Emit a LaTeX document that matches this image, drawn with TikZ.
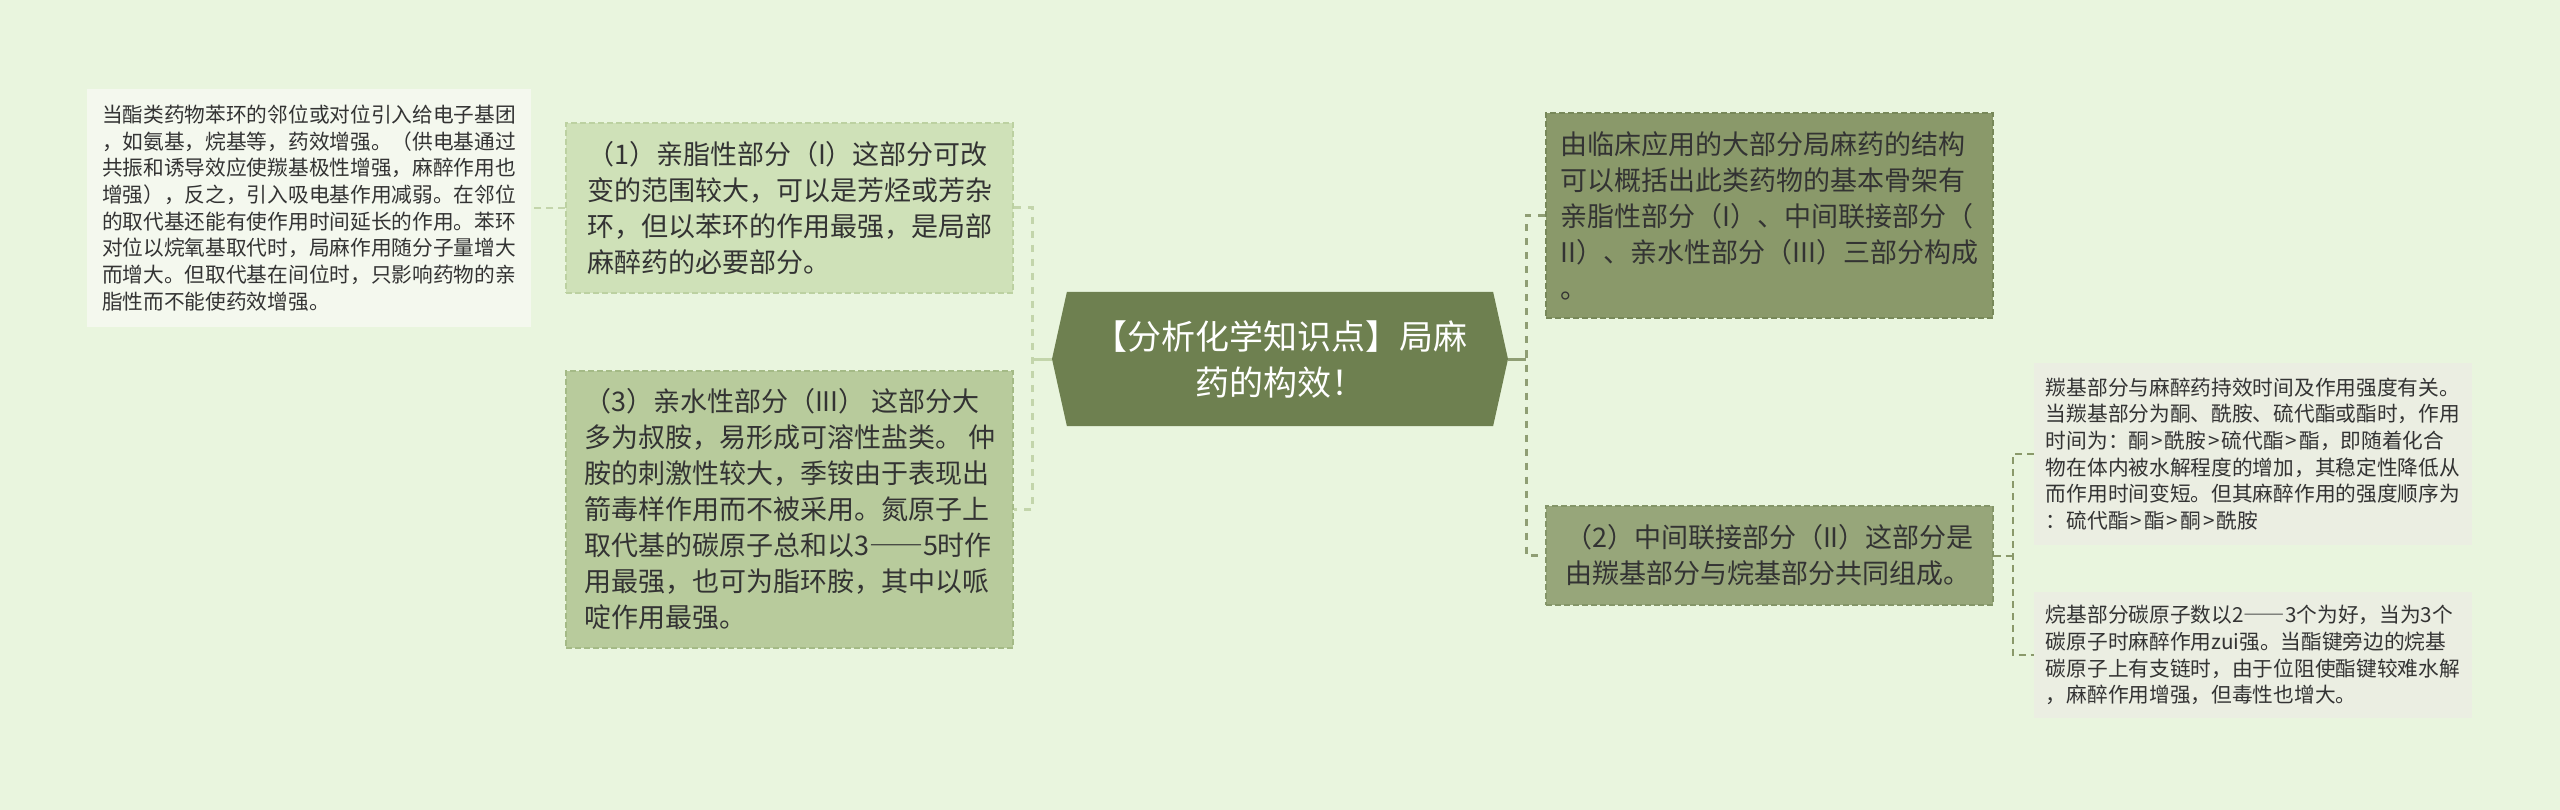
\documentclass[tikz,border=0pt]{standalone}
\usepackage{fontspec}
\setmainfont{Noto Sans CJK SC}
\usetikzlibrary{positioning, shapes.symbols}
\definecolor{bgcol}{HTML}{E9F5DE}
\definecolor{centerfill}{HTML}{6E8050}
\definecolor{lightfill}{HTML}{CFE1B8}
\definecolor{lightline}{HTML}{BCD1A1}
\definecolor{midfill}{HTML}{B8CB9C}
\definecolor{midline}{HTML}{A4BA86}
\definecolor{darkfill}{HTML}{8A996A}
\definecolor{darkline}{HTML}{778859}
\definecolor{greyfill}{HTML}{97A67A}
\definecolor{greyline}{HTML}{849568}
\definecolor{leaffillL}{HTML}{F4F8EE}
\definecolor{leaffillR}{HTML}{EBEEE2}
\definecolor{linklight}{HTML}{C3D5AB}
\definecolor{linkdark}{HTML}{8F9E74}
\definecolor{textdark}{HTML}{333333}
\newcommand{\fwdash}{{\addfontfeature{CharacterWidth=Full}——}}
\newcommand{\gt}{\kern2pt>\kern2pt}

\begin{document}
\begin{tikzpicture}[x=1pt, y=-1pt]
    \tikzstyle{central} = [signal, signal to=west and east, signal pointer angle=155, minimum width=456pt, minimum height=134pt, inner sep=0pt, fill=centerfill, text=white, align=center, font=\fontsize{34pt}{46pt}\selectfont]
    \tikzstyle{branch} = [rectangle, minimum width=447pt, inner sep=8pt, line width=1.5pt, dash pattern=on 6pt off 3pt, align=left, text=textdark, font=\fontsize{27pt}{36pt}\selectfont]
    \tikzstyle{note} = [rectangle, inner sep=8pt, align=left, text=textdark, font=\fontsize{20.7pt}{26.7pt}\selectfont]
    \tikzstyle{linkmain} = [line width=3pt]
    \tikzstyle{linknote} = [line width=2pt, dash pattern=on 7pt off 5pt]

    \fill [bgcol] (0,0) rectangle (2560,810);

    \node (c) [central] at (1280,359) {【分析化学知识点】局麻\\药的构效！};

    % left side
    \node (n1) [branch, fill=lightfill, draw=lightline, minimum height=170pt, left=38pt of c, yshift=151pt] {（1）亲脂性部分（I）这部分可改\\变的范围较大，可以是芳烃或芳杂\\环，但以苯环的作用最强，是局部\\麻醉药的必要部分。};
    \node (n3) [branch, fill=midfill, draw=midline, minimum height=277pt, left=38pt of c, yshift=-150.5pt] {（3）亲水性部分（III） 这部分大\\多为叔胺，易形成可溶性盐类。 仲\\胺的刺激性较大，季铵由于表现出\\箭毒样作用而不被采用。氮原子上\\取代基的碳原子总和以3\fwdash 5时作\\用最强，也可为脂环胺，其中以哌\\啶作用最强。};
    \node (leafL) [note, fill=leaffillL, minimum width=444pt, minimum height=238pt, left=34pt of n1] {当酯类药物苯环的邻位或对位引入给电子基团\\，如氨基，烷基等，药效增强。（供电基通过\\共振和诱导效应使羰基极性增强，麻醉作用也\\增强），反之，引入吸电基作用减弱。在邻位\\的取代基还能有使作用时间延长的作用。苯环\\对位以烷氧基取代时，局麻作用随分子量增大\\而增大。但取代基在间位时，只影响药物的亲\\脂性而不能使药效增强。};

    % right side
    \node (nR) [branch, fill=darkfill, draw=darkline, minimum height=205pt, right=37pt of c, yshift=143.5pt] {由临床应用的大部分局麻药的结构\\可以概括出此类药物的基本骨架有\\亲脂性部分（I）、中间联接部分（\\II）、亲水性部分（III）三部分构成\\。};
    \node (n2) [branch, fill=greyfill, draw=greyline, minimum height=99pt, right=37pt of c, yshift=-196.5pt] {（2）中间联接部分（II）这部分是\\由羰基部分与烷基部分共同组成。};
    \node (leafR1) [note, fill=leaffillR, minimum width=438pt, minimum height=182pt, right=40pt of n2, yshift=101.5pt] {羰基部分与麻醉药持效时间及作用强度有关。\\当羰基部分为酮、酰胺、硫代酯或酯时，作用\\时间为：酮\gt 酰胺\gt 硫代酯\gt 酯，即随着化合\\物在体内被水解程度的增加，其稳定性降低从\\而作用时间变短。但其麻醉作用的强度顺序为\\：硫代酯\gt 酯\gt 酮\gt 酰胺};
    \node (leafR2) [note, fill=leaffillR, minimum width=438pt, minimum height=126pt, right=40pt of n2, yshift=-99.5pt] {烷基部分碳原子数以2\fwdash 3个为好，当为3个\\碳原子时麻醉作用zui强。当酯键旁边的烷基\\碳原子上有支链时，由于位阻使酯键较难水解\\，麻醉作用增强，但毒性也增大。};

    % connectors
    \draw [linkmain, draw=linklight] (c.west) -- ++(-19,0) coordinate (jl);
    \draw [linkmain, draw=linklight, dash pattern=on 7pt off 7pt] (n1.east) -| (jl) |- (n3.east);
    \draw [linknote, draw=linklight] (n1.west) -- (leafL.east);
    \draw [linkmain, draw=linkdark] (c.east) -- ++(18,0) coordinate (jr);
    \draw [linkmain, draw=linkdark, dash pattern=on 7pt off 7pt] (nR.west) -| (jr) |- (n2.west);
    \draw [linknote, draw=darkfill] (n2.east) -- ++(19,0) coordinate (jn);
    \draw [linknote, draw=darkfill] (leafR1.west) -| (jn) |- (leafR2.west);
\end{tikzpicture}
\end{document}
